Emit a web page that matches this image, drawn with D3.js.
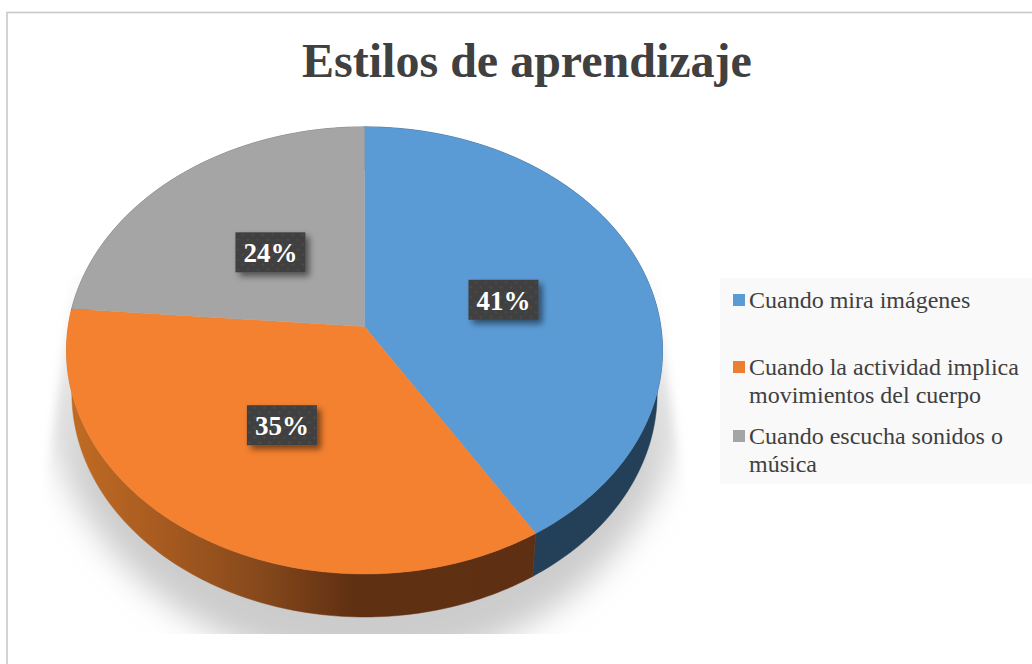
<!DOCTYPE html>
<html><head><meta charset="utf-8">
<script src="https://cdn.jsdelivr.net/npm/d3@7/dist/d3.min.js"></script>
<style>html,body{margin:0;padding:0;background:#fff}svg{display:block}</style>
</head><body><svg id="c" width="1032" height="664"></svg>
<script>
const categories = ["Cuando mira imágenes","Cuando la actividad implica movimientos del cuerpo","Cuando escucha sonidos o música"];
const legendLines = [["Cuando mira imágenes"],["Cuando la actividad implica","movimientos del cuerpo"],["Cuando escucha sonidos o","música"]];
const values = [41.2,35.1,23.7];
const colors = ["#5b9bd5","#f4812f","#a5a5a5"];
const swatches = ["#5b9bd5","#ed7d31","#a5a5a5"];
const sideColors = ["#234058","url(#sideO)","#5c5c5c"];
const titleText = "Estilos de aprendizaje";

const cx=364.5, cy=326.5, bx=296.3, ay=221, k=-0.107, depth=43, lowScale=0.982;
const labelNudge=[[-1.5,3],[-1.5,0],[2.5,4]];
const legendBaselines=[308,375,444];
const FONT="'Liberation Serif','Times New Roman',serif";
const svg=d3.select("#c");
const defs=svg.append("defs");

const project=(ang,r)=>{const u=Math.sin(ang)*r,v=-Math.cos(ang)*r,d=1+k*v;return [cx+bx*u/d,cy+ay*v/d];};
const arcs=d3.pie().value(d=>d).sort(null)(values);
const line=d3.line();
const rim=(a0,a1)=>d3.range(0,121).map(i=>project(a0+(a1-a0)*i/120,1));
const pct=d3.format(".0f");

// frame
svg.append("rect").attr("x",7).attr("y",12.5).attr("width",1040).attr("height",680).attr("fill","#fff").attr("stroke","#c9c9c9").attr("stroke-width",1.6);

// defs
const so=defs.append("linearGradient").attr("id","sideO").attr("gradientUnits","userSpaceOnUse").attr("x1",66).attr("x2",560).attr("y1",0).attr("y2",0);
[[0,"#c26c24"],[0.2,"#a65a20"],[0.4,"#85481b"],[0.58,"#603012"],[1,"#5e2f12"]].forEach(s=>so.append("stop").attr("offset",s[0]).attr("stop-color",s[1]));
const sg=defs.append("linearGradient").attr("id","shFade").attr("gradientUnits","userSpaceOnUse").attr("x1",0).attr("x2",0).attr("y1",265).attr("y2",480);
[[0,"#cccccc",0],[1,"#cccccc",1]].forEach(s=>sg.append("stop").attr("offset",s[0]).attr("stop-color",s[1]).attr("stop-opacity",s[2]));
const blur=defs.append("filter").attr("id","blur").attr("x","-20%").attr("y","-20%").attr("width","140%").attr("height","140%");
blur.append("feGaussianBlur").attr("stdDeviation",15);
const hblur=defs.append("filter").attr("id","hblur").attr("filterUnits","userSpaceOnUse").attr("x",0).attr("y",200).attr("width",1032).attr("height",464);
hblur.append("feGaussianBlur").attr("stdDeviation","5 0");
const ds=defs.append("filter").attr("id","ds").attr("x","-30%").attr("y","-30%").attr("width","170%").attr("height","170%");
ds.append("feDropShadow").attr("dx",4).attr("dy",4).attr("stdDeviation",3).attr("flood-color","#000").attr("flood-opacity",0.5);
const pat=defs.append("pattern").attr("id","dots").attr("patternUnits","userSpaceOnUse").attr("width",10).attr("height",10);
pat.append("rect").attr("width",10).attr("height",10).attr("fill","#3f3f3f");
pat.append("circle").attr("cx",2.5).attr("cy",2.5).attr("r",1.3).attr("fill","#4c4c4c");
pat.append("circle").attr("cx",7.5).attr("cy",7.5).attr("r",1.3).attr("fill","#4c4c4c");
defs.append("clipPath").attr("id","shClip").append("path").attr("d",line([[74,275],[46,480],[46,634],[682,634],[682,480],[654,275]])+"Z");

// shadow
svg.append("g").attr("filter","url(#hblur)").append("g").attr("clip-path","url(#shClip)").append("ellipse")
 .attr("cx",cx).attr("cy",353).attr("rx",325).attr("ry",313)
 .attr("fill","url(#shFade)").attr("filter","url(#blur)");

// side walls
const sides=svg.append("g");
arcs.forEach((a,i)=>{
  const pts=rim(a.startAngle,a.endAngle);
  const low=pts.map(p=>[cx+(p[0]-cx)*lowScale,p[1]+depth]).reverse();
  sides.append("path").attr("d",line(pts.concat(low))+"Z").attr("fill",sideColors[i]).attr("stroke",sideColors[i]).attr("stroke-width",0.5);
});
// top
const topFace=svg.append("g");
arcs.forEach((a,i)=>{
  topFace.append("path").attr("d",line([[cx,cy]].concat(rim(a.startAngle,a.endAngle)))+"Z").attr("fill",colors[i]).attr("stroke",colors[i]).attr("stroke-width",0.4);
});
// labels
arcs.forEach((a,i)=>{
  const c=project((a.startAngle+a.endAngle)/2,0.5);
  const g=svg.append("g").attr("transform",`translate(${c[0]+labelNudge[i][0]},${c[1]+labelNudge[i][1]})`);
  g.append("rect").attr("x",-35).attr("y",-20).attr("width",70).attr("height",40).attr("fill","url(#dots)").attr("filter","url(#ds)");
  g.append("text").attr("text-anchor","middle").attr("y",10).attr("font-family",FONT).attr("font-weight","bold").attr("font-size",27).attr("fill","#fff").text(pct(values[i])+"%");
});
// title
svg.append("text").attr("x",527).attr("y",77).attr("text-anchor","middle").attr("font-family",FONT).attr("font-weight","bold").attr("font-size",48).attr("fill","#404040").text(titleText);
// legend
svg.append("rect").attr("x",720).attr("y",278).attr("width",312).attr("height",206).attr("fill","#f9f9f9");
categories.forEach((c,i)=>{
  const g=svg.append("g").attr("transform",`translate(0,${legendBaselines[i]})`);
  g.append("rect").attr("x",733).attr("y",-14).attr("width",12).attr("height",12).attr("fill",swatches[i]);
  legendLines[i].forEach((t,j)=>g.append("text").attr("x",749).attr("y",j*28).attr("font-family",FONT).attr("font-size",24).attr("fill","#404040").text(t));
});
</script></body></html>
